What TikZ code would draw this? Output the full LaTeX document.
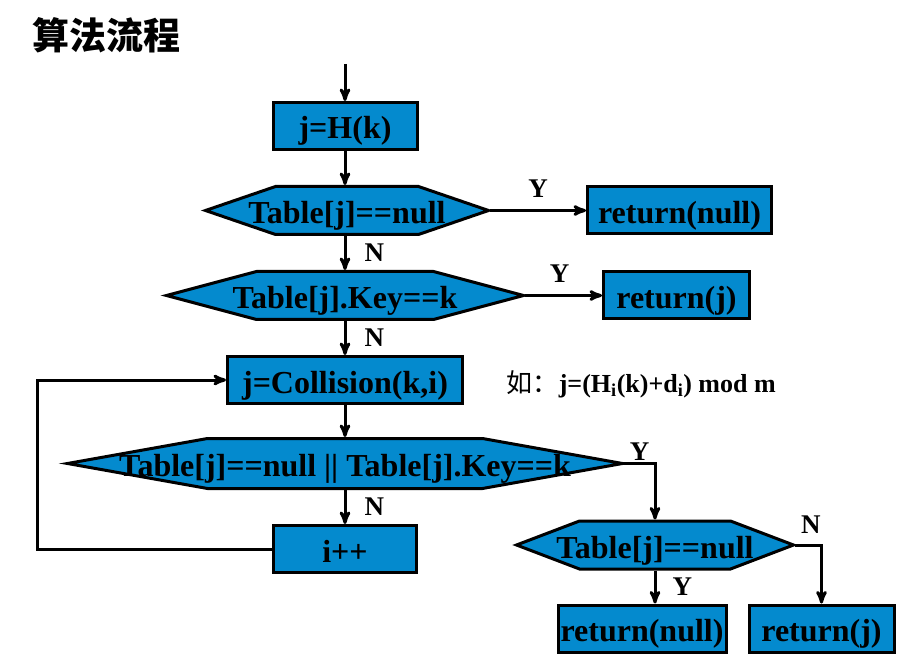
\documentclass[tikz,border=0pt]{standalone}
\usepackage{fontspec}
\setmainfont{Liberation Serif}
\newfontfamily\cjk{Noto Sans CJK SC}
\usepackage{tikz}
\usetikzlibrary{arrows, positioning}
\definecolor{colorBox}{RGB}{4,138,206}
% hexagon node: a rectangle whose left and right sides are cut to a point
\makeatletter
\pgfkeys{/pgf/hex cut/.initial=20pt}
\newdimen\hexL \newdimen\hexR \newdimen\hexT \newdimen\hexB
\newdimen\hexM \newdimen\hexC \newdimen\hexLc \newdimen\hexRc
\pgfdeclareshape{hexbox}{%
  \inheritsavedanchors[from=rectangle]%
  \inheritanchorborder[from=rectangle]%
  \inheritanchor[from=rectangle]{center}%
  \inheritanchor[from=rectangle]{north}%
  \inheritanchor[from=rectangle]{south}%
  \inheritanchor[from=rectangle]{east}%
  \inheritanchor[from=rectangle]{west}%
  \inheritanchor[from=rectangle]{mid}%
  \inheritanchor[from=rectangle]{base}%
  \backgroundpath{%
    \southwest \hexL=\pgf@x \hexB=\pgf@y
    \northeast \hexR=\pgf@x \hexT=\pgf@y
    \pgfmathsetlength\hexC{\pgfkeysvalueof{/pgf/outer xsep}}%
    \advance\hexL by\hexC \advance\hexR by-\hexC
    \pgfmathsetlength\hexC{\pgfkeysvalueof{/pgf/outer ysep}}%
    \advance\hexB by\hexC \advance\hexT by-\hexC
    \hexM=\hexB \advance\hexM by\hexT \divide\hexM by 2
    \pgfmathsetlength\hexC{\pgfkeysvalueof{/pgf/hex cut}}%
    \hexLc=\hexL \advance\hexLc by\hexC
    \hexRc=\hexR \advance\hexRc by-\hexC
    \pgfpathmoveto{\pgfqpoint{\hexL}{\hexM}}%
    \pgfpathlineto{\pgfqpoint{\hexLc}{\hexT}}%
    \pgfpathlineto{\pgfqpoint{\hexRc}{\hexT}}%
    \pgfpathlineto{\pgfqpoint{\hexR}{\hexM}}%
    \pgfpathlineto{\pgfqpoint{\hexRc}{\hexB}}%
    \pgfpathlineto{\pgfqpoint{\hexLc}{\hexB}}%
    \pgfpathclose
  }%
}
\makeatother
\tikzset{
  proc/.style={draw, fill=colorBox, minimum width=#1, minimum height=47pt, inner sep=0pt, text height=26pt, text depth=0pt, font=\fontsize{32}{36}\selectfont\bfseries},
  cond/.style 2 args={proc=#1, shape=hexbox, /pgf/hex cut=#2, minimum height=48pt},
  lbl/.style={font=\fontsize{27}{30}\selectfont\bfseries, inner sep=2pt}
}

\begin{document}
\begin{tikzpicture}[>=stealth', line width=3pt, node distance=34pt, x=1pt, y=-1pt]
\useasboundingbox (0,0) rectangle (905,668);
\node[anchor=west, font=\cjk\bfseries\fontsize{37}{40}\selectfont] (title) at (28,35) {算法流程};
\node[proc=144pt] (hk) at (345,126) {j=H(k)};
\coordinate[above=37pt of hk] (in);
\node[cond={283pt}{70pt}, below=of hk, xshift=2pt] (d1) {Table[j]==null};
\node[cond={357pt}{90pt}, below=of d1, xshift=-2pt] (d2) {Table[j].Key==k};
\node[proc=235pt, below=of d2] (coll) {j=Collision(k,i)};
\node[cond={555pt}{140pt}, minimum height=50pt, below=32pt of coll] (d3) {Table[j]==null || Table[j].Key==k};
\node[proc=143pt, below=of d3] (ipp) {i++};
\node[proc=184pt, right=96pt of d1] (rn1) {return(null)};
\node[proc=146pt, right=77pt of d2] (rj1) {return(j)};
\node[cond={277pt}{63pt}, below=56pt of d3.east, xshift=31pt] (d4) {Table[j]==null};
\node[proc=168pt, below=33pt of d4, xshift=-13pt] (rn2) {return(null)};
\node[proc=145pt, right=20pt of rn2] (rj2) {return(j)};
\node[right=38pt of coll, yshift=-4pt, font=\fontsize{26}{30}\selectfont\bfseries] (note) {{\cjk\mdseries 如：}j=(H\textsubscript{i}(k)+d\textsubscript{i}) mod m};
% main line
\draw [->] (in) -- (hk);
\draw [->] (hk) -- (hk |- d1.north);
\draw [->] (hk |- d1.south) -- node[lbl, right=16pt]{N} (d2);
\draw [->] (d2) -- node[lbl, right=16pt]{N} (coll);
\draw [->] (coll) -- (d3);
\draw [->] (d3) -- node[lbl, right=16pt]{N} (ipp);
\draw [->] (ipp.west) -| ([xshift=-189pt]coll.west) -- (coll.west);
% Y / N branches
\draw [->] (d1) -- node[lbl, above=9pt, pos=0.5]{Y} (rn1);
\draw [->] (d2) -- node[lbl, above=9pt, pos=0.45]{Y} (rj1);
\draw [->] (d3.east) -| node[lbl, above, pos=0.25]{Y} (d4.north);
\draw [->] (d4.east) -| node[lbl, above=8pt, pos=0.3]{N} (rj2.north);
\draw [->] (d4.south) -- node[lbl, right=14pt]{Y} (d4.south |- rn2.north);
\end{tikzpicture}
\end{document}
